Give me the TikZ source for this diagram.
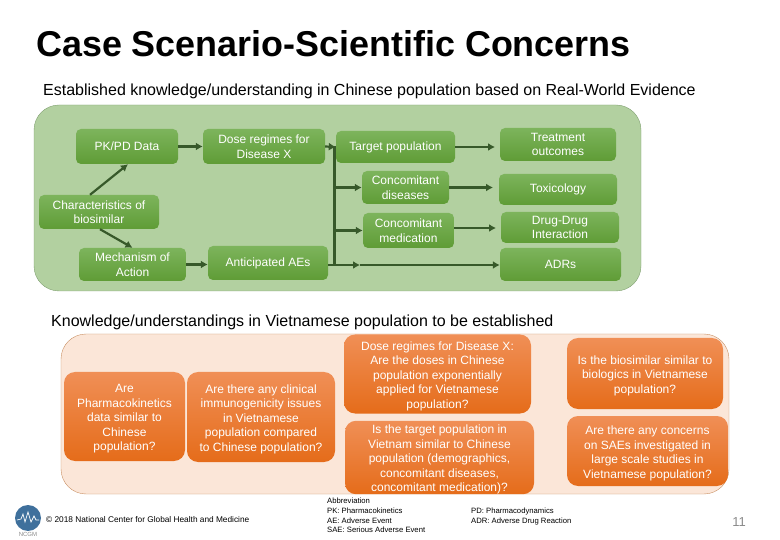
\documentclass[tikz,border=0pt]{standalone}
\usepackage{fontspec}
\setmainfont{Liberation Sans}
\usetikzlibrary{arrows.meta}
\definecolor{verde}{HTML}{6FA84A}
\definecolor{verdeclaro}{HTML}{7DB45C}
\definecolor{verdeoscuro}{HTML}{5F9C36}
\definecolor{flecha}{HTML}{37592A}
\definecolor{fondoverde}{HTML}{B2D0A0}
\definecolor{bordeverde}{HTML}{7F9F70}
\definecolor{naranjaclaro}{HTML}{F08F56}
\definecolor{naranja}{HTML}{E56C1A}
\definecolor{fondonaranja}{HTML}{FBE6D8}
\definecolor{bordenaranja}{HTML}{C88F62}
\definecolor{azullogo}{HTML}{3F709C}
\definecolor{gris}{HTML}{8A8A8A}
\newcommand{\tam}[2]{\fontsize{#1}{#2}\selectfont}
\newcommand{\bajar}{\\[-1.5pt]}
\tikzset{
  caja/.style={rounded corners=5pt, inner sep=0pt, align=center, text=white, font=\tam{12}{14.5}},
  cajaverde/.style={caja, top color=verdeclaro, bottom color=verdeoscuro},
  cajanaranja/.style={caja, rounded corners=11pt, top color=naranjaclaro, bottom color=naranja},
  flechaverde/.style={flecha, line width=2.2pt, -{Latex[length=7pt,width=8pt]}},
  tronco/.style={flecha, line width=2.4pt},
  texto/.style={inner sep=0pt, align=left, text=black}
}
\begin{document}
\begin{tikzpicture}[x=1pt, y=-1pt]
  \useasboundingbox (0,0) rectangle (780,540);
  \node[texto, anchor=west, font=\bfseries\tam{35.9}{42}] (titulo) at (36,44) {Case Scenario-Scientific Concerns};
  \node[texto, anchor=west, font=\tam{16}{18}] (conocido) at (43,91) {Established knowledge/understanding in Chinese population based on Real-World Evidence};
  \node[texto, anchor=west, font=\tam{16}{18}] (porhacer) at (51,322) {Knowledge/understandings in Vietnamese population to be established};

  % fondo verde
  \draw[bordeverde, fill=fondoverde, rounded corners=25pt] (34,105) rectangle (641,291);
  \node[cajaverde, minimum width=102pt, minimum height=35pt] (pkpd) at (127,146.5) {PK/PD Data};
  \node[cajaverde, minimum width=122pt, minimum height=35pt] (dosis) at (264,146.5) {Dose regimes for\\Disease X};
  \node[cajaverde, minimum width=120pt, minimum height=34pt] (carac) at (99,212) {Characteristics of\\biosimilar};
  \node[cajaverde, minimum width=107pt, minimum height=33pt] (meca) at (132.5,264.5) {Mechanism of\\Action};
  \node[cajaverde, minimum width=120pt, minimum height=34pt] (aes) at (268,263) {Anticipated AEs};
  \node[cajaverde, minimum width=119pt, minimum height=32pt] (objetivo) at (395.5,147) {Target population};
  \node[cajaverde, minimum width=87pt, minimum height=33pt] (enfer) at (405.5,187.5) {Concomitant\\diseases};
  \node[cajaverde, minimum width=91pt, minimum height=35pt] (medic) at (408.5,230.5) {Concomitant\\medication};
  \node[cajaverde, minimum width=116pt, minimum height=33pt] (trat) at (558,144.5) {Treatment\\outcomes};
  \node[cajaverde, minimum width=118pt, minimum height=31pt] (toxi) at (558,189.5) {Toxicology};
  \node[cajaverde, minimum width=118pt, minimum height=31pt] (ddi) at (560,227.5) {Drug-Drug\\Interaction};
  \node[cajaverde, minimum width=121pt, minimum height=33pt] (adr) at (560.5,264.5) {ADRs};

  \coordinate (arriba) at (334.5,146.5);
  \coordinate (abajo) at (334.5,265);
  \coordinate (medio) at (360,265);
  \coordinate (ramaenfer) at (334.5,187.5);
  \coordinate (ramamedic) at (334.5,230.5);

  \draw[flechaverde] (pkpd.east) -- (dosis.west);
  \draw[flechaverde] (carac.north -| 90,0) -- (pkpd.south -| 128,0);
  \draw[flechaverde] (carac.south -| 100,0) -- (meca.north);
  \draw[flechaverde] (meca.east) -- (meca.east -| aes.west);
  \draw[tronco] (arriba) -- (abajo);
  \draw[flechaverde] (dosis.east) -- (objetivo.west);
  \draw[flechaverde] (ramaenfer) -- (enfer.west);
  \draw[flechaverde] (ramamedic) -- (medic.west);
  \draw[flechaverde] (aes.east |- abajo) -- (medio);
  \draw[flechaverde] (medio) -- (adr.west |- abajo);
  \draw[flechaverde] (objetivo.east) -- (495,147);
  \draw[flechaverde] (enfer.east) -- (493,187.5);
  \draw[flechaverde] (medic.east |- 0,228) -- (496,228);

  % fondo naranja
  \draw[bordenaranja, fill=fondonaranja, rounded corners=25pt] (61,334) rectangle (729,494);
  \node[cajanaranja, minimum width=121pt, minimum height=89pt] (pk) at (124.5,416.5) {\bajar Are\\Pharmacokinetics\\data  similar to\\Chinese\\population?};
  \node[cajanaranja, minimum width=148pt, minimum height=90pt] (inmuno) at (261,417) {\bajar Are there any clinical\\immunogenicity issues\\in Vietnamese\\population compared\\to Chinese population?};
  \node[cajanaranja, minimum width=187pt, minimum height=79pt] (dosisvn) at (437.5,374) {\bajar Dose regimes for Disease X:\\Are the doses in Chinese\\population exponentially\\applied for Vietnamese\\population?};
  \node[cajanaranja, minimum width=189pt, minimum height=71pt] (objetivovn) at (439.5,457.5) {\bajar Is the target population in\\Vietnam similar to Chinese\\population (demographics,\\concomitant diseases,\\concomitant medication)?};
  \node[cajanaranja, minimum width=156pt, minimum height=71pt] (biosim) at (645,373.5) {\bajar Is the biosimilar similar to\\biologics in Vietnamese\\population?};
  \node[cajanaranja, minimum width=161pt, minimum height=70pt] (saes) at (647.5,451) {\bajar Are there any concerns\\on SAEs investigated in\\large scale studies in\\Vietnamese population?};

  % pie
  \fill[azullogo] (28,518) circle (13pt);
  \draw[white, line width=0.7pt] (17,520) -- (21,519) -- (23,514) -- (25,522) -- (28,512) -- (31,522) -- (34,516) -- (36,520) -- (39,520);
  \node[inner sep=0pt, text=gris, font=\tam{6}{7}] (ncgm) at (28,534) {NCGM};
  \node[texto, anchor=west, font=\tam{8.3}{9}] (pie) at (46,520) {© 2018 National Center for Global Health and Medicine};
  \node[texto, anchor=north west, font=\tam{7.7}{9.7}] (abrev) at (327,498) {Abbreviation\\PK: Pharmacokinetics\\AE: Adverse Event\\SAE: Serious Adverse Event};
  \node[texto, anchor=north west, font=\tam{7.7}{9.7}] (abrevdos) at (471,508) {PD: Pharmacodynamics\\ADR: Adverse Drug Reaction};
  \node[inner sep=0pt, text=gris, font=\tam{13}{15}] (pagina) at (739,522) {11};
\end{tikzpicture}
\end{document}
